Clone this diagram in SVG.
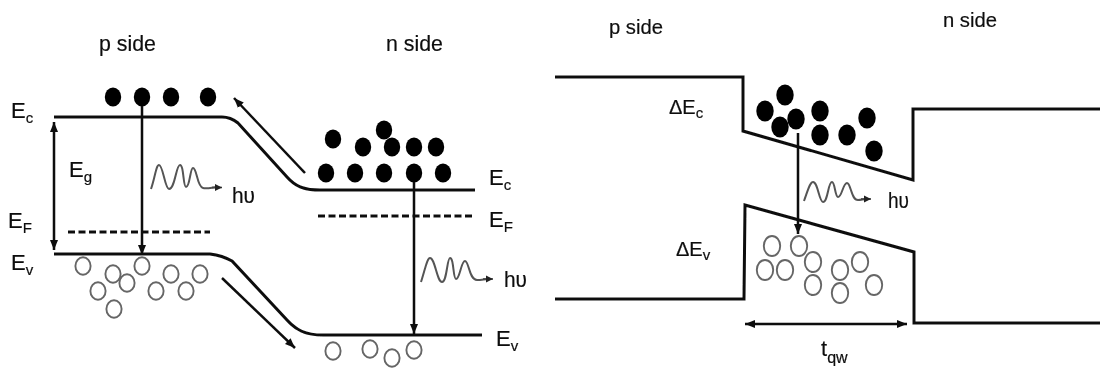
<svg xmlns="http://www.w3.org/2000/svg" width="1100" height="370" viewBox="0 0 1100 370">
<style>
text{font-family:"Liberation Sans",Arial,sans-serif;fill:#111;stroke:#111;stroke-width:0.2}
.t{font-size:22px}
.u{font-size:21px}
.e{font-size:22px}
.s{font-size:15px}
.d{font-size:20px}
.line{fill:none;stroke:#111;stroke-width:3}
.thin{fill:none;stroke:#111;stroke-width:2.5}
.dash{fill:none;stroke:#111;stroke-width:2.8;stroke-dasharray:7 3.5}
.wave{fill:none;stroke:#555;stroke-width:2}
.wavearrow{fill:none;stroke:#444;stroke-width:1.6}
.dot{fill:#000}
.hole{fill:#fff;stroke:#666;stroke-width:1.9}
</style>
<defs>
<marker id="ah" markerUnits="userSpaceOnUse" markerWidth="11" markerHeight="9" refX="10" refY="4.500" orient="auto-start-reverse"><path d="M0 0.500L10 4.500L0 8.500Z" fill="#111"/></marker>
<marker id="as" markerUnits="userSpaceOnUse" markerWidth="8" markerHeight="8" refX="7" refY="4" orient="auto"><path d="M0 0.500L7 4L0 7.500Z" fill="#222"/></marker>
<filter id="b" x="-2%" y="-2%" width="104%" height="104%"><feGaussianBlur stdDeviation="0.45"/></filter>
<ellipse id="f" rx="8.200" ry="9.500" class="dot"/>
<ellipse id="o" rx="7.600" ry="8.800" class="hole"/>
<ellipse id="f2" rx="8.700" ry="10.500" class="dot"/>
<ellipse id="o2" rx="8.200" ry="10" class="hole"/>
</defs>
<g filter="url(#b)">
<g id="bands-left">
<path class="line" d="M54 117H222C228 117 233 119 238 123L287 177C295 186 303 190 320 190H475"/>
<path class="line" d="M54 254H210C218 255 225 257 232 261L287 320C296 330 305 335 323 335H482"/>
<path class="dash" d="M68 232H210"/>
<path class="dash" d="M318 216H475"/>
</g>
<g id="bands-right">
<path class="line" d="M555 77H743V131L913 180V109H1100"/>
<path class="line" d="M555 299H744L745 205L914 252V323H1100"/>
</g>
<g id="connectors">
<path class="thin" marker-end="url(#ah)" d="M305 173L234 98"/>
<path class="thin" marker-end="url(#ah)" d="M222 278L295 348"/>
<path class="thin" marker-end="url(#ah)" d="M142 100V255"/>
<path class="thin" marker-end="url(#ah)" d="M414 175V334"/>
<path class="thin" marker-start="url(#ah)" marker-end="url(#ah)" d="M54 122V250"/>
<path class="thin" marker-end="url(#ah)" d="M798 133V234"/>
<path class="thin" marker-start="url(#ah)" marker-end="url(#ah)" d="M745 324H907"/>
</g>
<g id="photon-1">
<path class="wave" d="M151 189C155 178 156 165 159 165C163 165 165 189 169 189C175 189 176 165 180 165C184 165 183 187 186 187C190 187 190 168 193 168C197 168 197 187 203 188C208 189 213 187 218 187"/>
<path class="wavearrow" marker-end="url(#as)" d="M212 187.500H222"/>
<text class="t" x="232" y="203" textLength="23" lengthAdjust="spacingAndGlyphs">hυ</text>
</g>
<g id="photon-2">
<path class="wave" d="M421 282C425 270 427 258 430 258C435 258 437 282 442 282C447 282 447 258 450 258C454 258 453 279 456 279C460 279 461 261 465 261C469 261 469 280 477 280C482 280 485 279 489 279"/>
<path class="wavearrow" marker-end="url(#as)" d="M483 279H493"/>
<text class="t" x="504" y="287" textLength="23" lengthAdjust="spacingAndGlyphs">hυ</text>
</g>
<g id="photon-3">
<path class="wave" d="M804 201C808 190 810 182 813 182C818 182 819 202 823 202C828 202 828 182 832 182C835 182 835 197 838 197C842 197 843 183 847 183C851 183 851 200 858 200C861 200 864 199 867 199"/>
<path class="wavearrow" marker-end="url(#as)" d="M861 199H871"/>
<text class="t" x="888" y="208" textLength="21" lengthAdjust="spacingAndGlyphs">hυ</text>
</g>
<g id="electrons-p">
<use href="#f" x="113" y="97"/><use href="#f" x="142" y="97"/><use href="#f" x="171" y="97"/><use href="#f" x="208" y="97"/>
</g>
<g id="electrons-n">
<use href="#f" x="333" y="139"/><use href="#f" x="384" y="130"/><use href="#f" x="363" y="147"/><use href="#f" x="392" y="147"/><use href="#f" x="414" y="147"/><use href="#f" x="436" y="147"/>
<use href="#f" x="326" y="173"/><use href="#f" x="355" y="173"/><use href="#f" x="384" y="173"/><use href="#f" x="414" y="173"/><use href="#f" x="443" y="173"/>
</g>
<g id="holes-p">
<use href="#o" x="83" y="266"/><use href="#o" x="113" y="274"/><use href="#o" x="127" y="283"/><use href="#o" x="98" y="291"/><use href="#o" x="114" y="309"/>
<use href="#o" x="142" y="266"/><use href="#o" x="171" y="274"/><use href="#o" x="156" y="291"/><use href="#o" x="186" y="291"/><use href="#o" x="200" y="274"/>
</g>
<g id="holes-n">
<use href="#o" x="333" y="351"/><use href="#o" x="370" y="349"/><use href="#o" x="392" y="358"/><use href="#o" x="414" y="350"/>
</g>
<g id="electrons-qw">
<use href="#f2" x="785" y="95"/><use href="#f2" x="765" y="111"/><use href="#f2" x="780" y="127"/><use href="#f2" x="796" y="119"/><use href="#f2" x="820" y="111"/><use href="#f2" x="820" y="135"/><use href="#f2" x="847" y="135"/><use href="#f2" x="867" y="118"/><use href="#f2" x="874" y="151"/>
</g>
<g id="holes-qw">
<use href="#o2" x="772" y="246"/><use href="#o2" x="799" y="246"/><use href="#o2" x="813" y="262"/><use href="#o2" x="765" y="270"/><use href="#o2" x="785" y="270"/><use href="#o2" x="813" y="285"/><use href="#o2" x="840" y="270"/><use href="#o2" x="860" y="262"/><use href="#o2" x="840" y="293"/><use href="#o2" x="874" y="285"/>
</g>
<g id="labels">
<text class="t" x="99" y="51" textLength="57" lengthAdjust="spacingAndGlyphs">p side</text>
<text class="t" x="386" y="51" textLength="57" lengthAdjust="spacingAndGlyphs">n side</text>
<text class="u" x="609" y="34" textLength="54" lengthAdjust="spacingAndGlyphs">p side</text>
<text class="u" x="943" y="27" textLength="54" lengthAdjust="spacingAndGlyphs">n side</text>
<text class="e" x="11" y="118">E<tspan class="s" dy="5">c</tspan></text>
<text class="e" x="69" y="177">E<tspan class="s" dy="5">g</tspan></text>
<text class="e" x="8" y="228">E<tspan class="s" dy="5">F</tspan></text>
<text class="e" x="11" y="270">E<tspan class="s" dy="5">v</tspan></text>
<text class="e" x="489" y="185">E<tspan class="s" dy="5">c</tspan></text>
<text class="e" x="489" y="227">E<tspan class="s" dy="5">F</tspan></text>
<text class="e" x="496" y="346">E<tspan class="s" dy="5">v</tspan></text>
<text class="d" x="669" y="114">ΔE<tspan class="s" dy="4">c</tspan></text>
<text class="d" x="676" y="256">ΔE<tspan class="s" dy="4">v</tspan></text>
<text x="821" y="356" style="font-size:22px">t<tspan dy="7" style="font-size:16px">qw</tspan></text>
</g>
</g>
</svg>
